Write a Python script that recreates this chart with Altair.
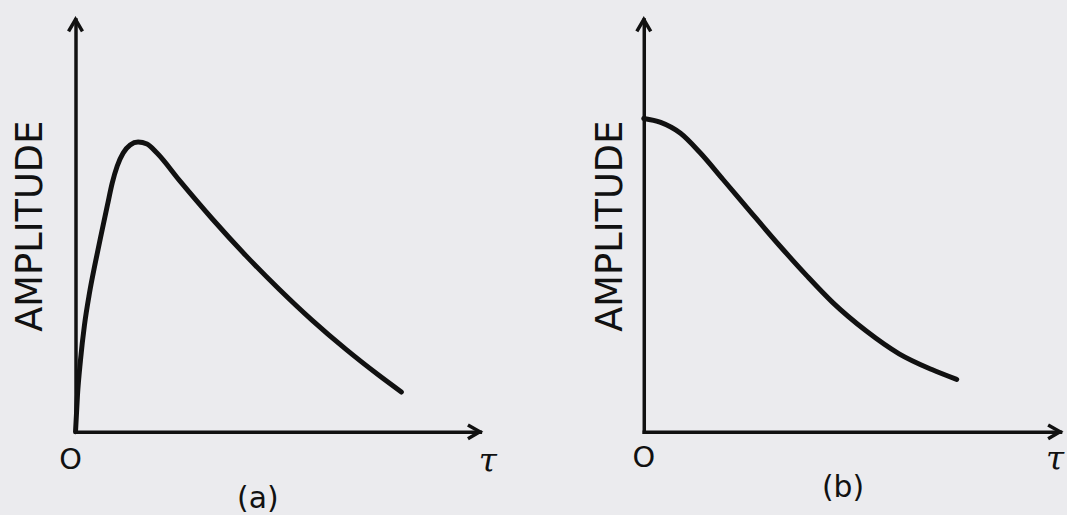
import altair as alt
import pandas as pd

# (a): response that climbs steeply from the origin, peaks early, then decays
tau_a = [0.0000, 0.0049, 0.0123, 0.0221, 0.0344, 0.0491, 0.0639, 0.0786, 0.0909,
         0.1032, 0.1179, 0.1351, 0.1548, 0.1769, 0.2015, 0.2580, 0.3391, 0.4226,
         0.5037, 0.5848, 0.6683, 0.7494, 0.8059]
amp_a = [0.0000, 0.0894, 0.1739, 0.2585, 0.3357, 0.4106, 0.4807, 0.5483, 0.6039,
         0.6449, 0.6763, 0.6957, 0.7029, 0.6981, 0.6763, 0.6087, 0.5157, 0.4263,
         0.3459, 0.2710, 0.2005, 0.1377, 0.0966]

# (b): response that starts at its maximum and falls off smoothly
tau_b = [0.0000, 0.0406, 0.0883, 0.1360, 0.1909, 0.2554, 0.3270, 0.3914, 0.4535,
         0.5346, 0.6134, 0.6921, 0.7518]
amp_b = [0.7602, 0.7506, 0.7242, 0.6763, 0.6115, 0.5348, 0.4508, 0.3789, 0.3141,
         0.2446, 0.1894, 0.1511, 0.1271]

panel_tags = ["(a)", "(b)"]
origin_label = "O"
tau_label = "τ"
y_title = "AMPLITUDE"

INK = "#111111"
SANS = "DejaVu Sans"
SERIF = "DejaVu Serif"

UP_ARROW = "M-0.7,1.2L0,0L0.7,1.2"
RIGHT_ARROW = "M-1.2,-0.7L0,0L-1.2,0.7"


def panel(tau, amp, tag, w, h, tag_x, tag_y, ytitle_x, o_off, t_off):
    curve = pd.DataFrame({"tau": tau, "amp": amp})
    xs = alt.Scale(domain=[0, 1], nice=False, zero=False)
    ys = alt.Scale(domain=[0, 1], nice=False, zero=False)

    x_axis = alt.Axis(
        title=tag, grid=False, ticks=False, labels=False,
        domainColor=INK, domainWidth=3.5, domainCap="square",
        titleFont=SANS, titleFontSize=30, titleFontWeight="normal",
        titleColor=INK, titleX=tag_x, titleY=tag_y,
        titleBaseline="middle", titleAlign="center",
    )
    y_axis = alt.Axis(
        title=y_title, grid=False, ticks=False, labels=False,
        domainColor=INK, domainWidth=3.5, domainCap="square",
        titleFont=SANS, titleFontSize=37, titleFontWeight="normal",
        titleColor=INK, titleX=ytitle_x, titleY=h / 2,
        titleBaseline="middle", titleAlign="center", titleAngle=-90,
    )

    line = alt.Chart(curve).mark_line(
        color=INK, strokeWidth=5, interpolate="monotone",
        strokeCap="round", strokeJoin="round",
    ).encode(
        x=alt.X("tau:Q", scale=xs, axis=x_axis),
        y=alt.Y("amp:Q", scale=ys, axis=y_axis),
    )

    up = alt.Chart(pd.DataFrame({"tau": [0], "amp": [1]})).mark_point(
        shape=UP_ARROW, filled=False, size=400, strokeWidth=3.5,
        color=INK, opacity=1, strokeJoin="miter",
    ).encode(x=alt.X("tau:Q", scale=xs), y=alt.Y("amp:Q", scale=ys))

    right = alt.Chart(pd.DataFrame({"tau": [1], "amp": [0]})).mark_point(
        shape=RIGHT_ARROW, filled=False, size=400, strokeWidth=3.5,
        color=INK, opacity=1, strokeJoin="miter",
    ).encode(x=alt.X("tau:Q", scale=xs), y=alt.Y("amp:Q", scale=ys))

    o_text = alt.Chart(pd.DataFrame({"tau": [0], "amp": [0], "t": [origin_label]})).mark_text(
        font=SANS, fontSize=29, color=INK, dx=o_off[0], dy=o_off[1], baseline="middle",
    ).encode(x=alt.X("tau:Q", scale=xs), y=alt.Y("amp:Q", scale=ys), text="t:N")

    t_text = alt.Chart(pd.DataFrame({"tau": [1], "amp": [0], "t": [tau_label]})).mark_text(
        font=SERIF, fontSize=33, fontStyle="italic", color=INK,
        dx=t_off[0], dy=t_off[1], baseline="middle",
    ).encode(x=alt.X("tau:Q", scale=xs), y=alt.Y("amp:Q", scale=ys), text="t:N")

    return alt.layer(line, up, right, o_text, t_text).properties(width=w, height=h)


left = panel(tau_a, amp_a, panel_tags[0], 407, 415, 183, 67, -45, (-5, 28), (8, 30))
right = panel(tau_b, amp_b, panel_tags[1], 419, 415, 200, 56, -33, (0, 26), (-5, 28))

chart = alt.hconcat(left, right, spacing=95).properties(
    padding={"left": 12, "top": 11, "right": 0, "bottom": 0},
    background="#ebebee",
).configure_view(stroke=None)

chart.save("out.html", embed_options={"renderer": "svg", "actions": False})
